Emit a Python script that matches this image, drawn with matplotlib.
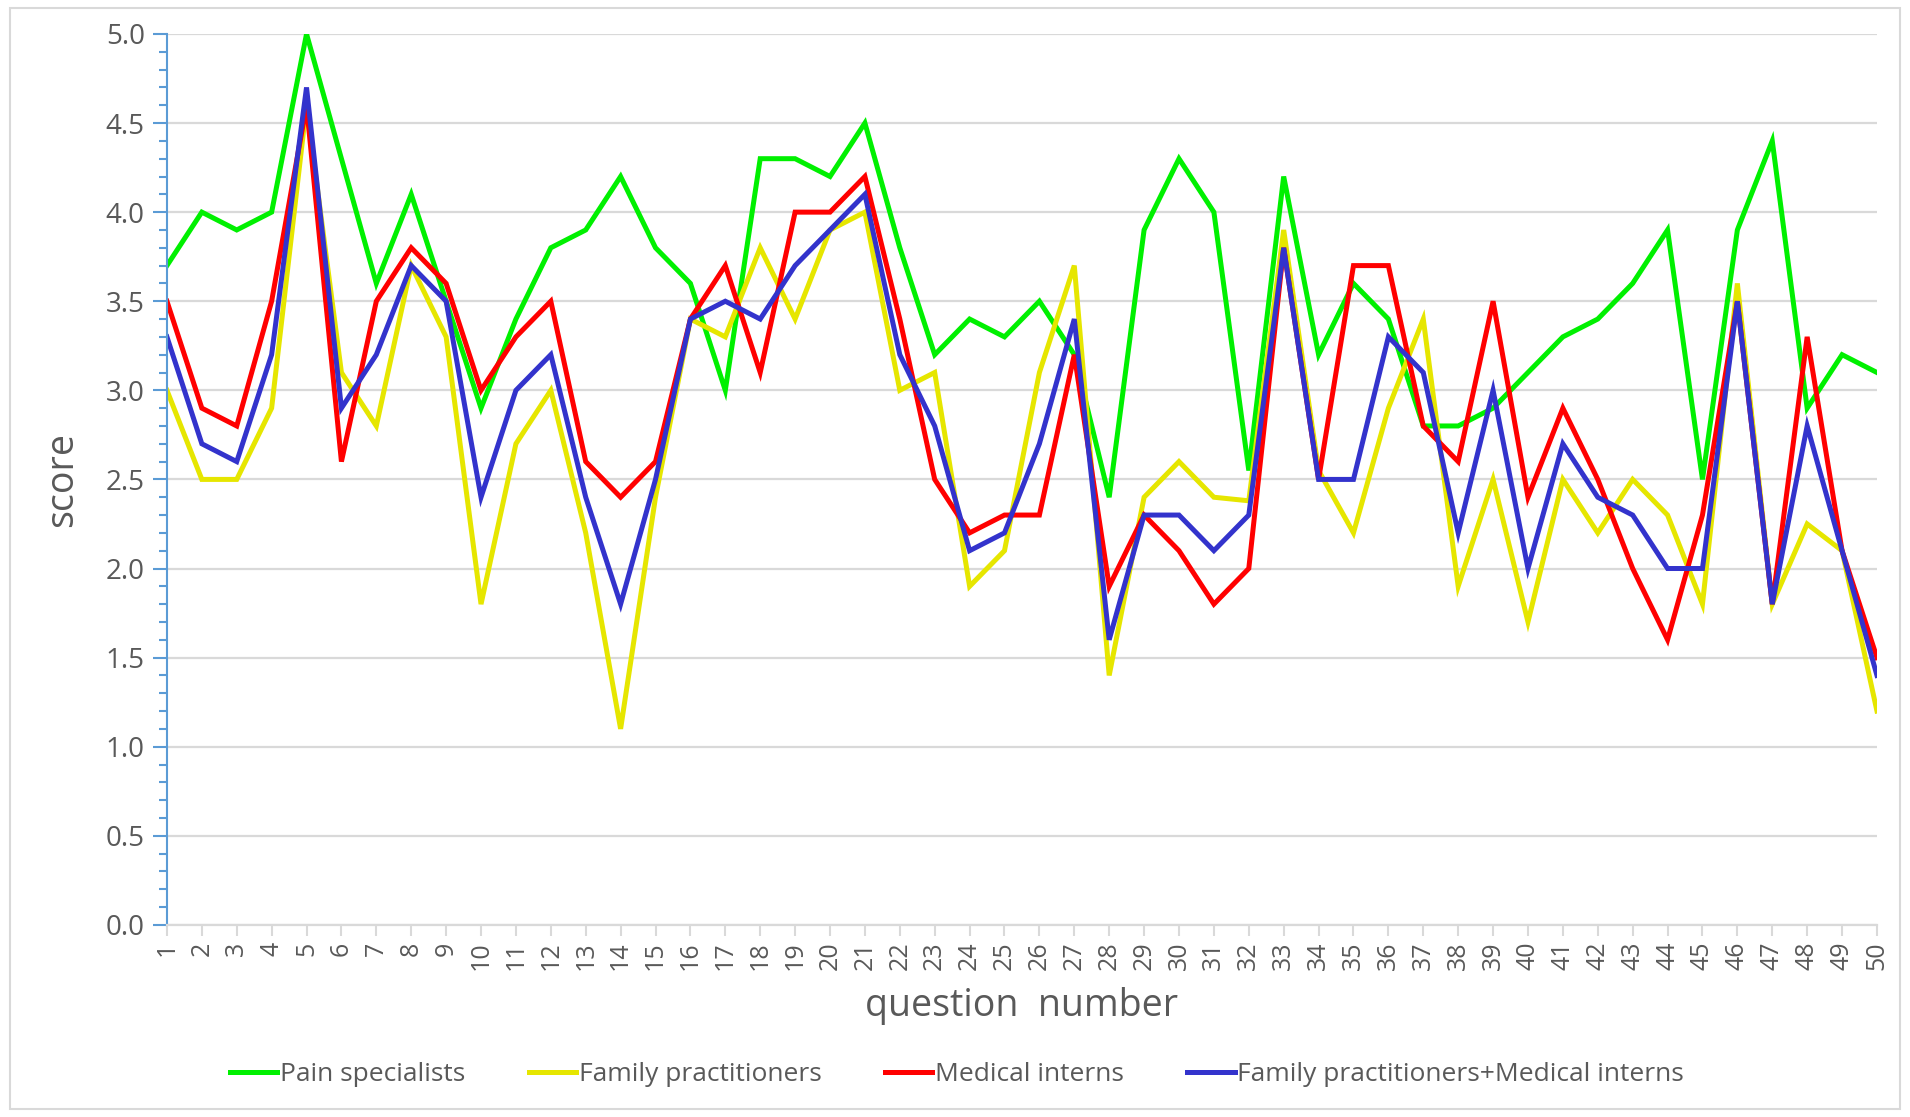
import numpy as np
import matplotlib
matplotlib.use("Agg")
import matplotlib.pyplot as plt
from matplotlib.patches import Rectangle
from matplotlib.ticker import MultipleLocator

plt.rcParams['font.family'] = ['Open Sans', 'DejaVu Sans']

# datos
preguntas = list(range(1, 51))
pain_specialists = [3.7, 4.0, 3.9, 4.0, 5.0, 4.3, 3.6, 4.1, 3.5, 2.9,
                    3.4, 3.8, 3.9, 4.2, 3.8, 3.6, 3.0, 4.3, 4.3, 4.2,
                    4.5, 3.8, 3.2, 3.4, 3.3, 3.5, 3.2, 2.4, 3.9, 4.3,
                    4.0, 2.55, 4.2, 3.2, 3.6, 3.4, 2.8, 2.8, 2.9, 3.1,
                    3.3, 3.4, 3.6, 3.9, 2.5, 3.9, 4.4, 2.9, 3.2, 3.1]
family_pract = [3.0, 2.5, 2.5, 2.9, 4.6, 3.1, 2.8, 3.7, 3.3, 1.8,
                2.7, 3.0, 2.2, 1.1, 2.4, 3.4, 3.3, 3.8, 3.4, 3.9,
                4.0, 3.0, 3.1, 1.9, 2.1, 3.1, 3.7, 1.4, 2.4, 2.6,
                2.4, 2.38, 3.9, 2.55, 2.2, 2.9, 3.4, 1.9, 2.5, 1.7,
                2.5, 2.2, 2.5, 2.3, 1.8, 3.6, 1.8, 2.25, 2.1, 1.2]
medical_interns = [3.5, 2.9, 2.8, 3.5, 4.6, 2.6, 3.5, 3.8, 3.6, 3.0,
                   3.3, 3.5, 2.6, 2.4, 2.6, 3.4, 3.7, 3.1, 4.0, 4.0,
                   4.2, 3.4, 2.5, 2.2, 2.3, 2.3, 3.2, 1.9, 2.3, 2.1,
                   1.8, 2.0, 3.8, 2.5, 3.7, 3.7, 2.8, 2.6, 3.5, 2.4,
                   2.9, 2.5, 2.0, 1.6, 2.3, 3.5, 1.8, 3.3, 2.1, 1.5]
fp_mi = [3.3, 2.7, 2.6, 3.2, 4.7, 2.9, 3.2, 3.7, 3.5, 2.4,
         3.0, 3.2, 2.4, 1.8, 2.5, 3.4, 3.5, 3.4, 3.7, 3.9,
         4.1, 3.2, 2.8, 2.1, 2.2, 2.7, 3.4, 1.6, 2.3, 2.3,
         2.1, 2.3, 3.8, 2.5, 2.5, 3.3, 3.1, 2.2, 3.0, 2.0,
         2.7, 2.4, 2.3, 2.0, 2.0, 3.5, 1.8, 2.8, 2.1, 1.4]

series = [
    ("Pain specialists", pain_specialists, "#00f000"),
    ("Family practitioners", family_pract, "#e6e600"),
    ("Medical interns", medical_interns, "#ff0000"),
    ("Family practitioners+Medical interns", fp_mi, "#3333cc"),
]

fig = plt.figure(figsize=(19.1, 11.17), dpi=100)
fig.patches.append(Rectangle((0.005, 0.007), 0.99, 0.986, transform=fig.transFigure,
                             fill=False, edgecolor="#d9d9d9", linewidth=1.5))

ax = fig.add_axes([0.0874, 0.172, 0.8953, 0.7976])

for nombre, valores, color in series:
    ax.plot(preguntas, valores, color=color, linewidth=3.6, label=nombre,
            solid_joinstyle="miter")

ax.set_xlim(1, 50)
ax.set_ylim(0, 5.0)
ax.yaxis.set_major_locator(MultipleLocator(0.5))
ax.yaxis.set_minor_locator(MultipleLocator(0.1))
ax.yaxis.set_major_formatter(matplotlib.ticker.FormatStrFormatter("%.1f"))
ax.set_xticks(preguntas)
ax.set_xticklabels([str(p) for p in preguntas], rotation=90)

ax.grid(axis="y", color="#d9d9d9", linewidth=1.6)
ax.set_axisbelow(True)
for s in ["top", "right"]:
    ax.spines[s].set_visible(False)
ax.spines["left"].set_color("#5b9bd5")
ax.spines["left"].set_linewidth(1.5)
ax.spines["bottom"].set_color("#d9d9d9")
ax.spines["bottom"].set_linewidth(1.6)

ax.tick_params(axis="y", which="major", length=10, width=1.5, color="#5b9bd5",
               labelsize=20, labelcolor="#595959", pad=6)
ax.tick_params(axis="y", which="minor", length=6, width=1.5, color="#5b9bd5")
ax.tick_params(axis="x", length=8, width=1.5, color="#d9d9d9",
               labelsize=18, labelcolor="#595959", pad=4)

ax.set_ylabel("score", fontsize=27, color="#595959", labelpad=18)
ax.set_xlabel("question  number", fontsize=27, color="#595959", labelpad=12)

ax.legend(loc="center", bbox_to_anchor=(0.462, -0.168), ncol=4, frameon=False,
          fontsize=19, labelcolor="#595959", handlelength=1.8, handletextpad=0.1,
          columnspacing=2.4)

fig.savefig("out.png", dpi=100)
